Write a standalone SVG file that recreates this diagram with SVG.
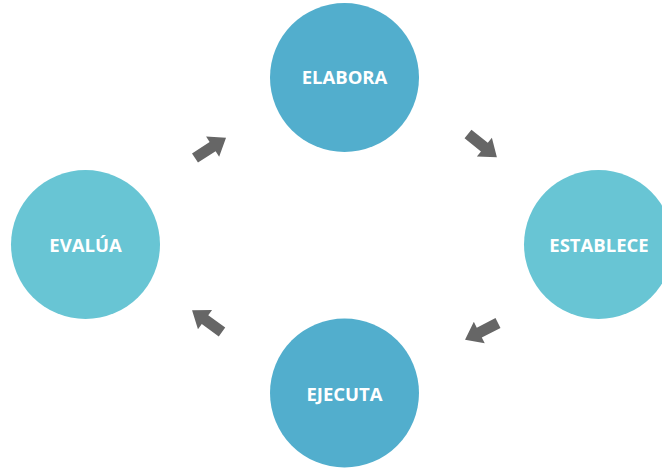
<svg xmlns="http://www.w3.org/2000/svg" width="662" height="470" viewBox="0 0 662 470">
<defs>
<style>
.lbl{font-family:"Open Sans","Liberation Sans",sans-serif;font-weight:bold;font-size:18.5px;fill:#ffffff;text-anchor:middle}
.dark{fill:#52aecd}
.light{fill:#68c5d4}
.arr{fill:#666666}
</style>
<path id="ar" d="M0,-5.5 L21,-5.5 L21,-12 L37,0 L21,12 L21,5.5 L0,5.5 Z"/>
</defs>
<rect width="662" height="470" fill="#ffffff"/>
<g id="elabora"><circle class="dark" cx="344.5" cy="77.5" r="74.5"/><text class="lbl" x="344.5" y="83.5">ELABORA</text></g>
<g id="establece"><circle class="light" cx="598.5" cy="244.5" r="74.5"/><text class="lbl" x="599" y="252">ESTABLECE</text></g>
<g id="ejecuta"><circle class="dark" cx="344.5" cy="393" r="74.5"/><text class="lbl" x="344.5" y="400.5">EJECUTA</text></g>
<g id="evalua"><circle class="light" cx="85.5" cy="244.5" r="74.5"/><text class="lbl" x="85.5" y="252">EVALÚA</text></g>
<g id="connectors">
<use href="#ar" class="arr" transform="translate(195,158) rotate(-33)"/>
<use href="#ar" class="arr" transform="translate(468,134) rotate(38.7)"/>
<use href="#ar" class="arr" transform="translate(498,323) rotate(153)"/>
<use href="#ar" class="arr" transform="translate(222,332) rotate(216)"/>
</g>
</svg>
